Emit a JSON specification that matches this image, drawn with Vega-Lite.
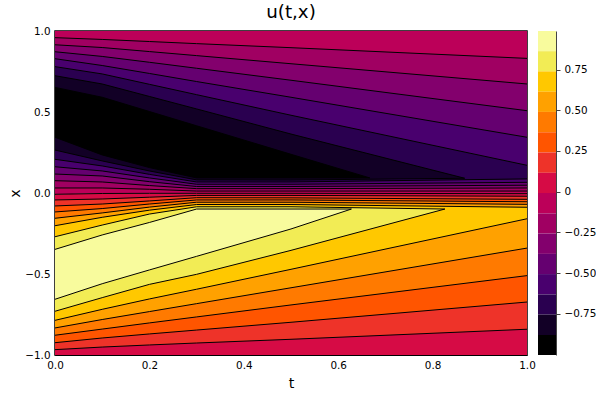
{
"$schema":"https://vega.github.io/schema/vega-lite/v6.json",
"padding":{"left":8,"top":1,"right":0,"bottom":0},
"background":"white",
"spacing":1,
"config":{"font":"DejaVu Sans","view":{"stroke":null}},
"datasets":{
"regions":[
{"b":9,"t":0,"hi":1,"lo":-0.008},{"b":9,"t":0.1,"hi":1,"lo":-0.003},{"b":9,"t":0.2,"hi":1,"lo":-0.002},{"b":9,"t":0.3,"hi":1,"lo":-0.002},{"b":9,"t":0.5,"hi":1,"lo":-0.002},{"b":9,"t":1,"hi":1,"lo":-0.004},
{"b":8,"t":0,"hi":-0.008,"lo":-1},{"b":8,"t":0.1,"hi":-0.003,"lo":-1},{"b":8,"t":0.2,"hi":-0.002,"lo":-1},{"b":8,"t":0.3,"hi":-0.002,"lo":-1},{"b":8,"t":0.5,"hi":-0.002,"lo":-1},{"b":8,"t":1,"hi":-0.004,"lo":-1},
{"b":10,"t":0,"hi":0.959,"lo":0.031},{"b":10,"t":0.1,"hi":0.948,"lo":0.031},{"b":10,"t":0.2,"hi":0.935,"lo":0.023},{"b":10,"t":0.3,"hi":0.922,"lo":0.012},{"b":10,"t":0.5,"hi":0.897,"lo":0.012},{"b":10,"t":1,"hi":0.831,"lo":0.012},
{"b":11,"t":0,"hi":0.915,"lo":0.076},{"b":11,"t":0.1,"hi":0.898,"lo":0.068},{"b":11,"t":0.2,"hi":0.873,"lo":0.046},{"b":11,"t":0.3,"hi":0.848,"lo":0.027},{"b":11,"t":0.5,"hi":0.798,"lo":0.027},{"b":11,"t":1,"hi":0.673,"lo":0.031},
{"b":12,"t":0,"hi":0.872,"lo":0.117},{"b":12,"t":0.1,"hi":0.843,"lo":0.105},{"b":12,"t":0.2,"hi":0.807,"lo":0.07},{"b":12,"t":0.3,"hi":0.77,"lo":0.04},{"b":12,"t":0.5,"hi":0.696,"lo":0.04},{"b":12,"t":1,"hi":0.508,"lo":0.048},
{"b":13,"t":0,"hi":0.829,"lo":0.162},{"b":13,"t":0.1,"hi":0.787,"lo":0.136},{"b":13,"t":0.2,"hi":0.738,"lo":0.093},{"b":13,"t":0.3,"hi":0.688,"lo":0.054},{"b":13,"t":0.5,"hi":0.591,"lo":0.054},{"b":13,"t":1,"hi":0.344,"lo":0.066},
{"b":14,"t":0,"hi":0.78,"lo":0.208},{"b":14,"t":0.1,"hi":0.735,"lo":0.167},{"b":14,"t":0.2,"hi":0.671,"lo":0.115},{"b":14,"t":0.3,"hi":0.607,"lo":0.068},{"b":14,"t":0.5,"hi":0.48,"lo":0.068},{"b":14,"t":1,"hi":0.171,"lo":0.087},
{"b":15,"t":0,"hi":0.724,"lo":0.265},{"b":15,"t":0.1,"hi":0.673,"lo":0.198},{"b":15,"t":0.2,"hi":0.596,"lo":0.136},{"b":15,"t":0.3,"hi":0.519,"lo":0.081},{"b":15,"t":0.5,"hi":0.364,"lo":0.08},{"b":15,"t":0.868,"hi":0.091,"lo":0.091},
{"b":16,"t":0,"hi":0.652,"lo":0.344},{"b":16,"t":0.1,"hi":0.591,"lo":0.235},{"b":16,"t":0.2,"hi":0.503,"lo":0.157},{"b":16,"t":0.3,"hi":0.415,"lo":0.093},{"b":16,"t":0.5,"hi":0.239,"lo":0.093},{"b":16,"t":0.667,"hi":0.093,"lo":0.093},
{"b":7,"t":0,"hi":-0.043,"lo":-0.967},{"b":7,"t":0.1,"hi":-0.037,"lo":-0.951},{"b":7,"t":0.2,"hi":-0.026,"lo":-0.938},{"b":7,"t":0.3,"hi":-0.015,"lo":-0.926},{"b":7,"t":0.5,"hi":-0.015,"lo":-0.903},{"b":7,"t":1,"hi":-0.02,"lo":-0.841},
{"b":6,"t":0,"hi":-0.08,"lo":-0.924},{"b":6,"t":0.1,"hi":-0.068,"lo":-0.895},{"b":6,"t":0.2,"hi":-0.049,"lo":-0.87},{"b":6,"t":0.3,"hi":-0.029,"lo":-0.846},{"b":6,"t":0.5,"hi":-0.03,"lo":-0.798},{"b":6,"t":1,"hi":-0.039,"lo":-0.673},
{"b":5,"t":0,"hi":-0.117,"lo":-0.878},{"b":5,"t":0.1,"hi":-0.096,"lo":-0.84},{"b":5,"t":0.2,"hi":-0.068,"lo":-0.802},{"b":5,"t":0.3,"hi":-0.043,"lo":-0.765},{"b":5,"t":0.5,"hi":-0.043,"lo":-0.691},{"b":5,"t":1,"hi":-0.054,"lo":-0.51},
{"b":4,"t":0,"hi":-0.156,"lo":-0.833},{"b":4,"t":0.1,"hi":-0.123,"lo":-0.781},{"b":4,"t":0.2,"hi":-0.087,"lo":-0.732},{"b":4,"t":0.3,"hi":-0.057,"lo":-0.683},{"b":4,"t":0.5,"hi":-0.057,"lo":-0.585},{"b":4,"t":1,"hi":-0.07,"lo":-0.34},
{"b":3,"t":0,"hi":-0.202,"lo":-0.786},{"b":3,"t":0.1,"hi":-0.15,"lo":-0.718},{"b":3,"t":0.2,"hi":-0.106,"lo":-0.654},{"b":3,"t":0.3,"hi":-0.071,"lo":-0.594},{"b":3,"t":0.5,"hi":-0.071,"lo":-0.471},{"b":3,"t":1,"hi":-0.088,"lo":-0.159},
{"b":2,"t":0,"hi":-0.27,"lo":-0.73},{"b":2,"t":0.1,"hi":-0.198,"lo":-0.646},{"b":2,"t":0.2,"hi":-0.13,"lo":-0.564},{"b":2,"t":0.3,"hi":-0.085,"lo":-0.502},{"b":2,"t":0.5,"hi":-0.085,"lo":-0.354},{"b":2,"t":0.826,"hi":-0.099,"lo":-0.099},
{"b":1,"t":0,"hi":-0.348,"lo":-0.656},{"b":1,"t":0.1,"hi":-0.259,"lo":-0.56},{"b":1,"t":0.2,"hi":-0.182,"lo":-0.475},{"b":1,"t":0.3,"hi":-0.099,"lo":-0.391},{"b":1,"t":0.5,"hi":-0.099,"lo":-0.222},{"b":1,"t":0.628,"hi":-0.099,"lo":-0.099}
],
"bar":[
{"b":1,"hi":0.987,"lo":0.863},{"b":2,"hi":0.863,"lo":0.739},{"b":3,"hi":0.739,"lo":0.614},{"b":4,"hi":0.614,"lo":0.49},
{"b":5,"hi":0.49,"lo":0.365},{"b":6,"hi":0.365,"lo":0.241},{"b":7,"hi":0.241,"lo":0.116},{"b":8,"hi":0.116,"lo":-0.008},
{"b":9,"hi":-0.008,"lo":-0.133},{"b":10,"hi":-0.133,"lo":-0.257},{"b":11,"hi":-0.257,"lo":-0.382},{"b":12,"hi":-0.382,"lo":-0.506},
{"b":13,"hi":-0.506,"lo":-0.631},{"b":14,"hi":-0.631,"lo":-0.755},{"b":15,"hi":-0.755,"lo":-0.88},{"b":16,"hi":-0.88,"lo":-1.003}
]},
"hconcat":[
{"width":472,"height":324,
"title":{"text":"u(t,x)","fontSize":18.3,"font":"DejaVu Sans","fontWeight":"normal","color":"#000000","offset":4},
"view":{"stroke":"#000000","strokeWidth":1.5},
"data":{"name":"regions"},
"layer":[
{"mark":{"type":"area","clip":true,"interpolate":"linear"},
"encoding":{
"x":{"field":"t","type":"quantitative","scale":{"domain":[0,1],"nice":false},
"axis":{"values":[0,0.2,0.4,0.6,0.8,1],"format":".1f","grid":false,"title":"t","titleFontSize":14.3,"titleFontWeight":"normal","titleColor":"#000000","titlePadding":6,"labelFontSize":10.4,"labelColor":"#000000","tickSize":0,"labelPadding":5,"labelFlush":false,"domainColor":"#000000"}},
"y":{"field":"hi","type":"quantitative","stack":null,"scale":{"domain":[-1,1],"nice":false},
"axis":{"values":[-1,-0.5,0,0.5,1],"format":".1f","grid":false,"title":"x","titleFontSize":14.3,"titleFontWeight":"normal","titleColor":"#000000","titlePadding":2,"labelFontSize":10.4,"labelColor":"#000000","tickSize":0,"labelPadding":5,"labelFlush":false,"domainColor":"#000000"}},
"y2":{"field":"lo"},
"color":{"field":"b","type":"nominal","legend":null,"sort":null,"scale":{"domain":[1,2,3,4,5,6,7,8,9,10,11,12,13,14,15,16],"range":["#F8FB9D","#F2EC55","#FFC800","#FFA100","#FF7A00","#FF5500","#EE3329","#D60B45","#BC0059","#A00062","#83006D","#650070","#49006E","#2A0050","#120026","#000000"]}}
}},
{"transform":[{"filter":"datum.b != 8 && datum.b != 9"}],
"mark":{"type":"line","clip":true,"color":"#000000","strokeWidth":1},
"encoding":{"x":{"field":"t","type":"quantitative"},"y":{"field":"hi","type":"quantitative"},"detail":{"field":"b","type":"nominal"}}},
{"transform":[{"filter":"datum.b != 8"}],
"mark":{"type":"line","clip":true,"color":"#000000","strokeWidth":1},
"encoding":{"x":{"field":"t","type":"quantitative"},"y":{"field":"lo","type":"quantitative"},"detail":{"field":"b","type":"nominal"}}}
]},
{"width":18,"height":324,
"view":{"stroke":null},
"data":{"name":"bar"},
"mark":{"type":"rect"},
"encoding":{
"y":{"field":"hi","type":"quantitative","scale":{"domain":[-1.003,0.987],"nice":false},
"axis":{"orient":"right","values":[-0.75,-0.5,-0.25,0,0.25,0.5,0.75],"labelExpr":"datum.value==0?'0':replace(format(datum.value,'.2f'),'-','\u2212')","grid":false,"title":null,"labelFontSize":10.4,"labelColor":"#000000","tickSize":4,"tickColor":"#444444","domainColor":"#444444","labelPadding":4}},
"y2":{"field":"lo"},
"color":{"field":"b","type":"nominal","legend":null,"scale":{"domain":[1,2,3,4,5,6,7,8,9,10,11,12,13,14,15,16],"range":["#F8FB9D","#F2EC55","#FFC800","#FFA100","#FF7A00","#FF5500","#EE3329","#D60B45","#BC0059","#A00062","#83006D","#650070","#49006E","#2A0050","#120026","#000000"]}}
}}
],
"resolve":{"scale":{"color":"independent"}}
}
